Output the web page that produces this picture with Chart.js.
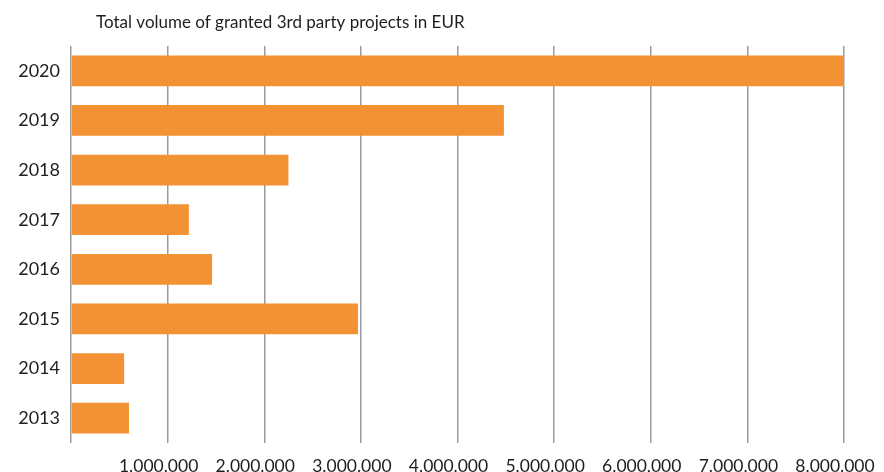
<!DOCTYPE html>
<html>
<head>
<meta charset="utf-8">
<script src="https://cdn.jsdelivr.net/npm/chart.js@4"></script>
<style>
html,body{margin:0;padding:0;background:#fff;}
#wrap{width:884px;height:472px;position:relative;}
</style>
</head>
<body>
<div id="wrap"><canvas id="c" width="884" height="472"></canvas></div>
<script>
const chartTitle = "Total volume of granted 3rd party projects in EUR";
const categories = ["2020","2019","2018","2017","2016","2015","2014","2013"];
const volumes = [8000000, 4480000, 2250000, 1220000, 1460000, 2970000, 550000, 600000];
const tickValues = [0,1000000,2000000,3000000,4000000,5000000,6000000,7000000,8000000];

const FONT = "Lato, 'Open Sans', 'DejaVu Sans', sans-serif";

function fmt(v){
  return String(v).replace(/\B(?=(\d{3})+(?!\d))/g, ".");
}

const titlePlugin = {
  id: 'customTitle',
  afterDraw(chart){
    const ctx = chart.ctx;
    ctx.save();
    ctx.font = "17px " + FONT;
    ctx.fillStyle = "#1e1e1e";
    ctx.textBaseline = "middle";
    ctx.textAlign = "left";
    ctx.fillText(chartTitle, 96, 23);
    ctx.restore();
  }
};

new Chart(document.getElementById('c'), {
  type: 'bar',
  data: {
    labels: categories,
    datasets: [{
      data: volumes,
      backgroundColor: '#F39234',
      borderWidth: 0,
      barPercentage: 0.62,
      categoryPercentage: 1.0
    }]
  },
  options: {
    indexAxis: 'y',
    responsive: false,
    animation: false,
    layout: { padding: { top: 46, right: 40, bottom: 0, left: 0 } },
    plugins: { legend: { display: false }, tooltip: { enabled: false } },
    scales: {
      x: {
        min: 0, max: 8000000,
        afterBuildTicks(scale){ scale.ticks = tickValues.map(v => ({value: v})); },
        afterFit(scale){ scale.paddingLeft = 0; scale.paddingRight = 0; scale.height = 29; },
        grid: { color: '#9b9b9b', lineWidth: 1.5, drawTicks: false },
        border: { display: false },
        ticks: {
          padding: 13,
          labelOffset: -9,
          maxRotation: 0,
          autoSkip: false,
          color: '#1e1e1e',
          font: { family: FONT, size: 17.5 },
          callback: (v) => v === 0 ? '' : fmt(v)
        }
      },
      y: {
        afterFit(scale){ scale.width = 71; },
        grid: { display: false, drawTicks: false },
        border: { display: false },
        ticks: {
          padding: 11,
          color: '#1e1e1e',
          font: { family: FONT, size: 18 }
        }
      }
    }
  },
  plugins: [titlePlugin]
});
</script>
</body>
</html>
